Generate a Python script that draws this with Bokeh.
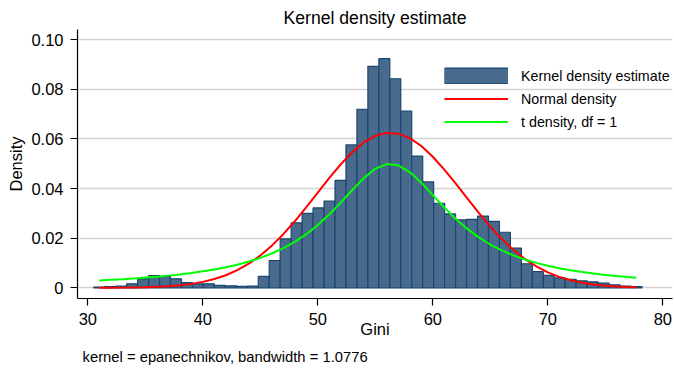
import numpy as np
from bokeh.plotting import figure
from bokeh.models import Range1d, FixedTicker, Legend, LegendItem, Title, ColumnDataSource
from bokeh.embed import file_html
from bokeh.resources import INLINE

FONT = "Liberation Sans"

# Histogram (density) of Gini: 50 bins
bin_start = 30.52
bin_width = 0.9534
hist_density = [0.0003, 0.0005, 0.0007, 0.0016, 0.0036, 0.0049, 0.0046, 0.0036, 0.0021, 0.0016,
                0.0016, 0.0010, 0.0008, 0.0006, 0.0007, 0.0046, 0.0110, 0.0197, 0.0262, 0.0300,
                0.0322, 0.0350, 0.0433, 0.0576, 0.0720, 0.0893, 0.0924, 0.0843, 0.0712, 0.0531,
                0.0427, 0.0341, 0.0298, 0.0274, 0.0276, 0.0289, 0.0268, 0.0224, 0.0160, 0.0097,
                0.0065, 0.0050, 0.0040, 0.0034, 0.0028, 0.0024, 0.0019, 0.0012, 0.0007, 0.0005]

# Curves
curve_x = [31, 32, 33, 34, 35, 36, 37, 38, 39, 40, 41, 42, 43, 44, 45, 46, 47, 48, 49, 50,
           51, 52, 53, 54, 55, 56, 57, 58, 59, 60, 61, 62, 63, 64, 65, 66, 67, 68, 69, 70,
           71, 72, 73, 74, 75, 76, 77, 77.7]
normal_density = [0.00002, 0.00004, 0.00008, 0.00014, 0.00024, 0.00040, 0.00064, 0.00102, 0.00158, 0.00239,
                  0.00352, 0.00507, 0.00712, 0.00976, 0.01303, 0.01699, 0.02161, 0.02683, 0.03250, 0.03841,
                  0.04428, 0.04982, 0.05470, 0.05860, 0.06125, 0.06246, 0.06215, 0.06035, 0.05718, 0.05285,
                  0.04767, 0.04196, 0.03603, 0.03019, 0.02468, 0.01968, 0.01532, 0.01164, 0.00862, 0.00623,
                  0.00440, 0.00303, 0.00203, 0.00133, 0.00085, 0.00053, 0.00032, 0.00023]
t_density = [0.00298, 0.00322, 0.00348, 0.00377, 0.00411, 0.00448, 0.00491, 0.00540, 0.00597, 0.00663,
             0.00739, 0.00828, 0.00933, 0.01058, 0.01206, 0.01384, 0.01597, 0.01854, 0.02162, 0.02528,
             0.02955, 0.03435, 0.03942, 0.04423, 0.04800, 0.04989, 0.04940, 0.04668, 0.04239, 0.03739,
             0.03238, 0.02777, 0.02374, 0.02032, 0.01745, 0.01507, 0.01308, 0.01143, 0.01005, 0.00889,
             0.00791, 0.00707, 0.00635, 0.00573, 0.00520, 0.00473, 0.00433, 0.00407]

x_ticks = [30, 40, 50, 60, 70, 80]
y_ticks = [0, 0.02, 0.04, 0.06, 0.08, 0.10]
y_tick_labels = {0: "0", 0.02: "0.02", 0.04: "0.04", 0.06: "0.06", 0.08: "0.08", 0.1: "0.10"}

BAR_FILL = "#486a8c"
BAR_EDGE = "#1a476f"

edges = bin_start + bin_width * np.arange(len(hist_density) + 1)
src = ColumnDataSource(dict(left=edges[:-1], right=edges[1:], top=hist_density,
                            bottom=[0] * len(hist_density)))

p = figure(width=674, height=373, output_backend="svg", toolbar_location=None,
           x_range=Range1d(29.104, 80.843), y_range=Range1d(-0.004315, 0.10415),
           min_border_left=77, min_border_right=2, min_border_top=29, min_border_bottom=75)
p.outline_line_color = None
p.background_fill_color = "white"
p.border_fill_color = "white"

p.title.text = "Kernel density estimate"
p.title.align = "center"
p.title.text_font = FONT
p.title.text_font_size = "17.6px"
p.title.text_font_style = "normal"
p.title.text_color = "black"
p.title.standoff = 4

p.xgrid.visible = False
p.ygrid.ticker = FixedTicker(ticks=y_ticks)
p.ygrid.grid_line_color = "#d4d4d4"
p.ygrid.grid_line_width = 1.5

for ax in (p.xaxis[0], p.yaxis[0]):
    ax.axis_line_color = "black"
    ax.axis_line_width = 1.2
    ax.major_tick_line_color = "black"
    ax.major_tick_line_width = 1.2
    ax.major_tick_out = 7
    ax.major_tick_in = 0
    ax.minor_tick_line_color = None
    ax.major_label_text_font = FONT
    ax.major_label_text_font_size = "16.5px"
    ax.major_label_text_color = "black"
    ax.axis_label_text_font = FONT
    ax.axis_label_text_font_size = "16.5px"
    ax.axis_label_text_font_style = "normal"
    ax.axis_label_text_color = "black"
    ax.major_label_standoff = 7

p.xaxis.ticker = FixedTicker(ticks=x_ticks)
p.xaxis.axis_label = "Gini"
p.xaxis.axis_label_standoff = -8
p.yaxis.ticker = FixedTicker(ticks=y_ticks)
p.yaxis.major_label_overrides = y_tick_labels
p.yaxis.axis_label = "Density"
p.yaxis.axis_label_standoff = 3

bars = p.quad(left="left", right="right", top="top", bottom="bottom", source=src,
              fill_color=BAR_FILL, line_color=BAR_EDGE, line_width=1.2)
r_norm = p.line(curve_x, normal_density, line_color="#ff0000", line_width=2)
r_t = p.line(curve_x, t_density, line_color="#00ff00", line_width=2)

# legend-only swatch for the bars (full-size box with dark edge); NaN data draws nothing in the plot
nan_src = ColumnDataSource(dict(x=[float("nan")], y=[float("nan")]))
sw_edge = p.line(x="x", y="y", source=nan_src, line_color=BAR_EDGE, line_width=17)
sw_fill = p.line(x="x", y="y", source=nan_src, line_color=BAR_FILL, line_width=14.6)

legend = Legend(items=[LegendItem(label="Kernel density estimate", renderers=[sw_edge, sw_fill]),
                       LegendItem(label="Normal density", renderers=[r_norm]),
                       LegendItem(label="t density, df = 1", renderers=[r_t])],
                location=(367, 168), padding=0, margin=0, spacing=6,
                glyph_width=64, glyph_height=17, label_standoff=13, label_height=17,
                border_line_alpha=0, background_fill_alpha=0,
                label_text_font=FONT, label_text_font_size="14.3px", label_text_color="black")
p.add_layout(legend)

note = Title(text="kernel = epanechnikov, bandwidth = 1.0776", align="left", offset=5,
             text_font=FONT, text_font_size="14.8px", text_font_style="normal",
             text_color="black", standoff=13)
p.add_layout(note, "below")

open("out.html", "w").write(file_html(p, INLINE))
